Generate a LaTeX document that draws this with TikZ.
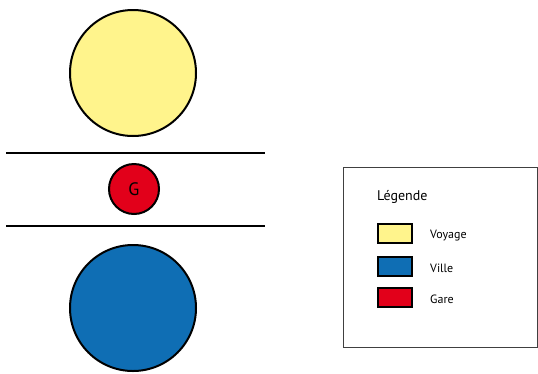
\documentclass[tikz,border=0pt]{standalone}
\usepackage{fontspec}
\setmainfont{PT Sans}
\definecolor{voy}{HTML}{FFF48C}
\definecolor{vil}{HTML}{0F6EB4}
\definecolor{gar}{HTML}{E2001A}
\begin{document}
\begin{tikzpicture}[x=1pt,y=-1pt,
  bigc/.style={circle,draw=black,line width=2pt,minimum size=126pt,inner sep=0pt},
  swatch/.style={rectangle,draw=black,line width=2pt,minimum width=34pt,minimum height=19pt,inner sep=0pt},
  lab/.style={anchor=west,font=\fontsize{12}{14}\selectfont,inner sep=0pt}]
\useasboundingbox (0,0) rectangle (538,373);
\node[bigc,fill=voy] (voyage) at (133,73) {};
\node[bigc,fill=vil] (ville) at (133,308) {};
\node[circle,draw=black,line width=2pt,fill=gar,minimum size=50pt,inner sep=0pt,font=\fontsize{18}{20}\selectfont] (gare) at (134,189) {G};
\coordinate (l1a) at (6,153); \coordinate (l1b) at (265,153);
\coordinate (l2a) at (6,226); \coordinate (l2b) at (265,226);
\draw[line width=2.5pt] (l1a) -- (l1b);
\draw[line width=2.5pt] (l2a) -- (l2b);
\node[draw=black!75,line width=1pt,minimum width=194pt,minimum height=180pt,anchor=north west,inner sep=0pt] (box) at (343,167) {};
\node[lab,font=\fontsize{14}{16}\selectfont] (titre) at (377,197) {Légende};
\node[swatch,fill=voy] (s1) at (394.5,233) {};
\node[swatch,fill=vil] (s2) at (394.5,266) {};
\node[swatch,fill=gar] (s3) at (394.5,297.5) {};
\node[lab] (t1) at (430,236) {Voyage};
\node[lab] (t2) at (430,268) {Ville};
\node[lab] (t3) at (430,299) {Gare};
\end{tikzpicture}
\end{document}
